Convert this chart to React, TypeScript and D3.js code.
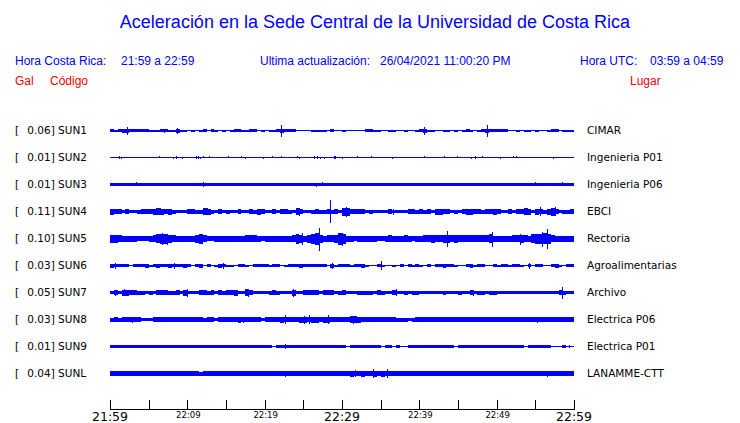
import React from 'react';
import * as d3 from 'd3';

// ---------- data ----------
const stations = ['SUN1', 'SUN2', 'SUN3', 'SUN4', 'SUN5', 'SUN6', 'SUN7', 'SUN8', 'SUN9', 'SUNL'];
const places = ['CIMAR', 'Ingenieria P01', 'Ingenieria P06', 'EBCI', 'Rectoria', 'Agroalimentarias', 'Archivo', 'Electrica P06', 'Electrica P01', 'LANAMME-CTT'];
const peakGal = ['0.06', '0.01', '0.01', '0.11', '0.10', '0.03', '0.05', '0.03', '0.01', '0.04'];

const tickLabels = ['21:59', '22:09', '22:19', '22:29', '22:39', '22:49', '22:59'];
const majorLabels = ['21:59', '22:29', '22:59'];

// envelope half-amplitude per half-minute bin (px units)
const sun1Env = [
  1.5, 1, 1.5, 2, 2, 1.5, 1.5, 1.5, 1.5, 1.5, 1, 1, 1, 1.5, 1.5, 1, 1, 2, 1, 1,
  0.5, 1, 0, 1, 1.5, 0.5, 1.5, 1, 0.5, 1, 0, 1, 1.5, 1.5, 1, 1, 1.5, 1.5, 0.5, 1,
  0.5, 1, 1, 1.5, 2, 1.5, 1.5, 1.5, 0, 0, 0, 0.5, 1, 1, 1, 1, 0.5, 1.5, 0, 0.5,
  1, 0.5, 0.5, 0, 0.5, 0.5, 1.5, 1.5, 1, 1, 0, 0, 1, 1, 0.5, 0, 1, 0, 0, 1,
  1.5, 2, 1, 1, 0, 0.5, 1, 1, 0.5, 1, 0, 1, 1.5, 1, 0.5, 1, 1.5, 2, 1.5, 1.5,
  1.5, 1.5, 1.5, 0.5, 0, 1, 0.5, 1, 1, 0.5, 1, 0.5, 0, 1, 1.5, 1.5, 0, 1, 1, 1,
];
const sun2Env: number[] = [];
const sun3Env = [
  1.7, 1.7, 1.7, 1.7, 1.7, 1.7, 1.7, 1.7, 1.7, 1.7, 1.7, 1.7, 1.7, 1.7, 1.7, 1.7, 1.7, 1.7, 1.7, 1.7,
  1.7, 1.7, 1.7, 1.7, 1.7, 1.7, 1.7, 1.7, 1.7, 1.7, 1.7, 1.7, 1.7, 1.7, 1.7, 1.7, 1.7, 1.7, 1.7, 1.7,
  1.7, 1.7, 1.7, 1.7, 1.7, 1.7, 1.7, 1.7, 1.7, 1.7, 1.7, 1.7, 1.7, 1.7, 1.7, 1.7, 1.7, 1.7, 1.7, 1.7,
  1.7, 1.7, 1.7, 1.7, 1.7, 1.7, 1.7, 1.7, 1.7, 1.7, 1.7, 1.7, 1.7, 1.7, 1.7, 1.7, 1.7, 1.7, 1.7, 1.7,
  1.7, 1.7, 1.7, 1.7, 1.7, 1.7, 1.7, 1.7, 1.7, 1.7, 1.7, 1.7, 1.7, 1.7, 1.7, 1.7, 1.7, 1.7, 1.7, 1.7,
  1.7, 1.7, 1.7, 1.7, 1.7, 1.7, 1.7, 1.7, 1.7, 1.7, 1.1, 1.1, 1.1, 1.1, 1.1, 1.1, 1.1, 1.1, 1.1, 1.1,
];
const sun4Env = [
  3, 2.2, 2.2, 1.7, 2.2, 1.7, 1.7, 2, 2.5, 2.2, 2.5, 3, 3.5, 3, 2.5, 3, 2, 1.7, 1.7, 1.7,
  2.2, 2.2, 2, 2, 3.5, 3, 2, 1.7, 2.5, 1.7, 2, 1.7, 1.7, 2.2, 1.7, 1.7, 2.2, 2, 3, 2.5,
  1.7, 1.7, 2.2, 1.7, 2.2, 2.2, 2, 1.7, 3.5, 2.5, 1.7, 1.7, 2, 2.2, 2, 2, 2.5, 2, 2.2, 1.7,
  4, 4, 2.5, 2.2, 2.2, 2.2, 1.7, 2, 1.7, 1.7, 1.7, 1.7, 2.5, 1.7, 1.7, 1.7, 1.7, 2.5, 2.5, 2,
  2.5, 2, 2.2, 1.7, 3, 3, 2.2, 2.5, 1.7, 2, 1.7, 2.5, 3, 3, 2.5, 2.5, 2, 2.5, 2.2, 3,
  2.5, 1.7, 1.7, 2.2, 1.7, 2.2, 2.5, 3.5, 3, 1.7, 3, 2.5, 2, 3, 4, 2.5, 1.7, 2, 2, 2.2,
];
const sun5Env = [
  4, 4, 3.5, 3, 3, 3, 3, 2.7, 2.7, 2.7, 3, 3.5, 4.5, 5, 5, 4, 3.5, 3, 3, 3,
  3, 3, 4, 5, 3.5, 2.7, 2.7, 3, 3, 3, 3, 3, 3, 3, 3, 3.5, 3.5, 3.5, 3, 2.7,
  3, 3, 3, 3, 3, 3, 3, 3.5, 5, 4, 3, 4, 5, 6, 4, 3, 3.5, 3.5, 4, 6,
  5, 3, 3, 2.7, 3, 3, 3, 3, 3, 2.5, 2.5, 3, 3.5, 3, 3, 3, 3.5, 3, 2.7, 3,
  3, 3.5, 3.5, 4, 3.5, 3.5, 4, 4, 3.5, 4, 3.5, 3.5, 3.5, 3.5, 3.5, 3.5, 3.5, 3.5, 4.5, 3,
  3, 3, 3, 3, 3.5, 3.5, 4, 3.5, 3, 4.5, 5, 5, 5.5, 5, 3.5, 3, 3, 3, 3, 3,
];
const sun6Env = [
  2, 1.5, 1.5, 1.5, 1.5, 0.5, 1.5, 1.5, 1.5, 2, 1, 1.5, 2, 1.5, 1.5, 2, 1.5, 1.5, 1.5, 2,
  1.5, 0.5, 1.5, 2, 0.5, 1.5, 0, 1, 2, 1.5, 1, 1, 0.5, 1.5, 1.5, 1, 0, 1.5, 1.5, 1.5,
  1.5, 1, 1.5, 1.5, 0, 1, 1.5, 1.5, 1.5, 2, 1.5, 1.5, 1.5, 1.5, 1.5, 1.5, 0.5, 2, 1, 1.5,
  1.5, 1.5, 1, 1.5, 1.5, 2, 1, 0, 0, 1.5, 1, 0, 0, 1, 0, 1.5, 0.5, 1.5, 1, 1.5,
  1, 0.5, 1.5, 0.5, 1.5, 1.5, 2, 1.5, 1.5, 1, 0.5, 0, 1.5, 2, 1, 1.5, 1.5, 0.5, 0.5, 1.5,
  1, 1.5, 1.5, 1, 1.5, 1.5, 1, 0.5, 1.5, 0.5, 1.5, 1.5, 0.5, 0.5, 1.5, 2, 1, 0.5, 1.5, 1.5,
];
const sun7Env = [
  1.7, 2.2, 1.3, 3, 3, 2.5, 2.5, 2, 2, 1.5, 2, 1.5, 2.2, 2.5, 2.5, 2, 2, 2.5, 1.5, 3,
  1.5, 1.5, 1.5, 2.5, 2.5, 2, 2.2, 1.7, 2.2, 2, 2.2, 2.5, 3, 1.5, 1.5, 3.5, 2.5, 1.7, 1.7, 1.7,
  1.7, 2, 2.7, 2, 1.3, 1.3, 1.5, 3, 1.7, 1.7, 2.5, 2.5, 2.2, 2.5, 1.7, 2.2, 2.2, 2.5, 1.7, 2,
  2.2, 1.3, 1.3, 1.7, 2, 2, 2, 2, 1.5, 2.5, 2, 1.5, 1.7, 2.5, 1.5, 1.3, 2, 1.7, 2, 2,
  1.3, 1.3, 1.5, 1.3, 1.5, 1.3, 2, 1.7, 1.7, 1.7, 2, 1.3, 1.7, 2.5, 1.5, 2, 2, 1.7, 2, 2,
  1.3, 1.7, 1.7, 1.7, 1.5, 1.7, 1.7, 1.3, 1.5, 1.7, 1.7, 1.7, 1.3, 1.7, 1.7, 1.7, 2.5, 2, 1.7, 1.7,
];
const sun8Env = [
  2, 2.2, 2, 2.5, 2.5, 2.5, 2.2, 2.5, 1.8, 1.8, 1.7, 2.5, 2.7, 2.5, 2.7, 2.5, 2.7, 2.5, 2.5, 2.7,
  2.5, 2.7, 2.5, 2.2, 2, 2.5, 2.2, 1.7, 2.5, 2.7, 2.5, 2.5, 2.7, 3, 2.7, 2.5, 2.5, 2.2, 2.5, 1.8,
  2.7, 2.7, 2.5, 2.7, 3, 2.5, 2.5, 2.5, 2.7, 3, 3, 2.7, 3, 3, 2.7, 3, 3, 2.7, 2.5, 2.5,
  2.5, 2.5, 3.5, 3.5, 3, 2.7, 2.5, 2.7, 2.5, 2.5, 2.7, 2.5, 2.5, 2.2, 2, 2, 2, 1.8, 2, 2.5,
  2.5, 2.5, 2.7, 2.5, 2.5, 2.7, 2.5, 2.7, 2.5, 2.7, 2.5, 2.7, 2.7, 2.5, 2.2, 2.7, 2.5, 2.7, 2.5, 2.7,
  2.7, 2.5, 2.7, 2.5, 2.5, 2.7, 2.5, 2.7, 2.5, 2.7, 2.7, 2.5, 2.7, 2.5, 2.7, 2.7, 2.5, 2.7, 2.7, 2.7,
];
const sun9Env = [
  1.5, 1.5, 1.2, 1.5, 1.5, 1.5, 1.2, 1.5, 1.5, 1.5, 1.2, 1.5, 1.5, 1.5, 1.5, 1.5, 1.5, 1.5, 1.2, 1.5,
  1.5, 1.5, 1.5, 1.5, 1.5, 1.5, 1.2, 1.5, 1.5, 1.2, 1.2, 1.5, 1.5, 1.5, 1.2, 1.5, 1.5, 1.5, 1.5, 1.2,
  1.5, 1.2, 0.5, 1.5, 1.5, 1.5, 1.5, 1.5, 1.5, 1.5, 1.5, 1.5, 1.5, 1.5, 1.5, 1.5, 1.5, 1.5, 1.5, 1.5,
  1.2, 0.5, 1.5, 1.5, 1.5, 1.2, 1.5, 1.5, 1.5, 1.5, 0.5, 1.2, 1.2, 0.5, 1.2, 0.5, 0.5, 1.5, 1.5, 1.5,
  1.5, 1.2, 1.5, 1.5, 1.5, 1.5, 1.2, 1.5, 1.5, 0.5, 1.5, 1.5, 1.5, 1.5, 1.5, 1.5, 1.5, 1.5, 1.5, 1.5,
  1.2, 1.5, 1.5, 1.5, 1.2, 1.5, 1.5, 0.5, 1.2, 1.5, 1.5, 1.5, 1.5, 1.5, 0.5, 0.5, 0.5, 1.2, 0.5, 0.5,
];
const sunLEnv = [
  2.5, 2.5, 2.2, 2.5, 2.5, 2.5, 2.2, 2.5, 2.5, 2.2, 2.5, 2.5, 2.2, 2.5, 2.5, 2.5, 2.2, 2.5, 2.5, 2.5,
  2.2, 2.5, 2.5, 2, 2.2, 2.5, 2.5, 2.2, 2.5, 2.5, 2.5, 2.2, 2.5, 2.5, 2.5, 2.5, 2.5, 2.5, 2.2, 2.5,
  2.5, 2.5, 2.5, 2.2, 2.5, 2.5, 2.2, 2.5, 2.5, 2.5, 2.5, 2.2, 2.5, 2.5, 2.5, 2.5, 2.2, 2.5, 2.5, 2.5,
  2.5, 2.5, 3, 2.7, 2.5, 3, 2.5, 2.7, 3, 2.7, 3, 2.7, 2.5, 2.5, 2.2, 2.5, 2.5, 2.5, 2.2, 2.5,
  2.5, 2.5, 2.5, 2.5, 2.5, 2.2, 2.5, 2.5, 2.5, 2.5, 2.2, 2.5, 2.5, 2.5, 2.5, 2.5, 2.5, 2.7, 2.5, 2.5,
  2.5, 2.5, 2.5, 2.5, 2.5, 2.5, 2.5, 2.2, 2.5, 2.5, 2.5, 2.5, 2.7, 2.7, 2.5, 2.5, 2.5, 2.5, 2.5, 2.5,
];

// isolated peaks: [minute, up, down]
const sun1Spikes = [[2.16, 4, 4], [7.03, 2, 2], [8.71, 2.3, 3.3], [22.11, 5.7, 6.7], [40.65, 3.3, 4.3], [48.79, 6, 6.7]];
const sun2Spikes = [
  [1.16, 1.7, 1.7], [1.42, 0, 1.7], [6.38, 1.7, 0], [8.1, 0, 1.7], [8.53, 1.7, 1.7], [9.27, 0, 1.7], [11.08, 1.7, 1.7],
  [11.42, 1.7, 1.7], [11.64, 0, 1.7], [12.07, 1.7, 0], [12.84, 1.7, 0], [15.3, 1.7, 0], [16.94, 1.7, 0], [17.46, 0, 1.7],
  [19.78, 0, 1.7], [20.9, 1.7, 0], [22.07, 1.7, 0], [24.22, 1.7, 0], [24.48, 0, 1.7], [26.38, 1.7, 1.7], [26.72, 1.7, 1.7],
  [27.16, 0, 1.7], [27.67, 0, 1.7], [28.97, 1.7, 1.7], [29.1, 1.7, 1.7], [29.96, 0, 1.7], [31.98, 1.7, 0], [33.71, 1.7, 0],
  [36.42, 0, 1.7], [40.65, 1.7, 0], [43.23, 1.7, 0], [44.83, 1.7, 0], [46.68, 0, 1.7], [47.2, 1.7, 1.7], [48.06, 1.7, 0],
  [50.43, 0, 1.7], [52.16, 1.7, 0], [52.46, 1.7, 0], [57.24, 0, 1.7],
];
const sun3Spikes = [[3.36, 2.7, 1.7], [12.07, 2.7, 2.3], [26.64, 1.7, 2.7], [27.41, 2.7, 1.7], [54.96, 2.2, 1.7], [58.4, 2.2, 1.7]];
const sun4Spikes = [[28.49, 12, 11], [24.48, 4, 4.5], [55.6, 4.5, 4], [6.47, 4, 3.5], [36.64, 3, 3.5], [57.54, 5, 4.5], [12.5, 4, 3.5], [14.22, 3, 2.5], [30.5, 5, 5]];
const sun5Spikes = [[27.07, 11, 12], [43.62, 7.7, 8.9], [56.47, 10, 10], [55.8, 7, 8], [49.35, 7, 8], [24.78, 6, 6], [29.96, 6, 7], [11.85, 5, 5.5], [6.68, 6, 6], [7.33, 5, 6], [53, 5, 6]];
const sun6Spikes = [[0.65, 3, 3], [35.04, 4.3, 4.3], [8.32, 3, 3], [14.66, 2.5, 3], [54.2, 3, 3], [28.66, 3, 3]];
const sun7Spikes = [[58.41, 5.3, 6.3], [9.91, 4, 4], [1.85, 3.5, 3.5], [17.8, 4, 4], [23.7, 3.5, 4], [36.94, 3.5, 3.5], [46.98, 3, 3], [0.65, 3, 3]];
const sun8Spikes = [[22.63, 4.3, 4.7], [25.13, 3.5, 4], [25.73, 4.3, 4.5], [28.15, 4.3, 4.7], [31.47, 4, 4], [2.89, 3, 3.5], [55.26, 3, 3.5], [17.24, 3, 3]];
const sun9Spikes = [[22.6, 2.3, 2.3], [59.3, 1.7, 1.7]];
const sunLSpikes = [[31.68, 3.5, 3.5], [34.05, 4.5, 4.5], [35.78, 4.5, 4.5], [56.47, 3, 3], [49.57, 2.8, 2.8], [22.63, 3, 3]];

const envelopes = [sun1Env, sun2Env, sun3Env, sun4Env, sun5Env, sun6Env, sun7Env, sun8Env, sun9Env, sunLEnv];
const spikeSets = [sun1Spikes, sun2Spikes, sun3Spikes, sun4Spikes, sun5Spikes, sun6Spikes, sun7Spikes, sun8Spikes, sun9Spikes, sunLSpikes];

// ---------- layout ----------
const W = 740;
const H = 423;
const BIN = 0.5; // minutes per envelope bin
const BLUE = '#0000ff';
const RED = '#ff0000';
const HEAD_FONT = '"Liberation Sans", Arial, sans-serif';
const LABEL_FONT = '"DejaVu Sans", sans-serif';

const x = d3.scaleLinear().domain([0, 60]).range([110, 574]);
const row = d3.scaleLinear().domain([0, 9]).range([130, 373]);
const amp = d3.scaleLinear().domain([0, 1]).range([0, 1]);

function Trace({ i }: { i: number }) {
  const cy = row(i) + 0.5;
  const env = envelopes[i];
  const data = env.length ? [...env, env[env.length - 1]] : [];
  const area = d3
    .area<number>()
    .x((_, k) => x(k * BIN))
    .y0((d) => cy - amp(d))
    .y1((d) => cy + amp(d))
    .curve(d3.curveStepAfter);
  return (
    <g shapeRendering="crispEdges">
      <rect x={x(0)} y={cy - 0.5} width={x(60) - x(0)} height={1} fill={BLUE} />
      {data.length > 0 && <path d={area(data) || ''} fill={BLUE} />}
      {spikeSets[i].map((s, k) => (
        <rect
          key={k}
          x={Math.round(x(s[0]))}
          y={cy - amp(Math.max(s[1], 0.5))}
          width={1}
          height={amp(Math.max(s[1], 0.5)) + amp(Math.max(s[2], 0.5))}
          fill={BLUE}
        />
      ))}
    </g>
  );
}

export default function App() {
  const tickMinutes = d3.range(0, 61, 5);
  return (
    <svg
      width={W}
      height={H}
      viewBox={`0 0 ${W} ${H}`}
      style={{ position: 'absolute', left: 0, top: 0, background: '#fff', display: 'block' }}
    >
      <rect x={0} y={0} width={W} height={H} fill="#fff" />
      <text x={375} y={28} textAnchor="middle" fontFamily={HEAD_FONT} fontSize={18} fill={BLUE}>
        Aceleración en la Sede Central de la Universidad de Costa Rica
      </text>

      <g fontFamily={HEAD_FONT} fontSize={12} fill={BLUE}>
        <text x={15} y={65}>Hora Costa Rica:</text>
        <text x={121} y={65}>21:59 a 22:59</text>
        <text x={260} y={65}>Ultima actualización:</text>
        <text x={380} y={65}>26/04/2021 11:00:20 PM</text>
        <text x={580} y={65}>Hora UTC:</text>
        <text x={650} y={65}>03:59 a 04:59</text>
      </g>
      <g fontFamily={HEAD_FONT} fontSize={12} fill={RED}>
        <text x={15} y={85}>Gal</text>
        <text x={50} y={85}>Código</text>
        <text x={630} y={85}>Lugar</text>
      </g>

      <g fontFamily={LABEL_FONT} fontSize={10.5} fill="#000">
        {stations.map((s, i) => (
          <g key={s}>
            <text x={15} y={row(i) + 4}>[</text>
            <text x={27.3} y={row(i) + 4}>{`${peakGal[i]}] ${s}`}</text>
            <text x={587} y={row(i) + 4}>{places[i]}</text>
          </g>
        ))}
      </g>

      {stations.map((s, i) => (
        <Trace key={s} i={i} />
      ))}

      <g shapeRendering="crispEdges" stroke="#000" strokeWidth={1}>
        <line x1={x(0)} x2={x(60) + 1} y1={409.5} y2={409.5} />
        {tickMinutes.map((m) => (
          <line key={m} x1={Math.round(x(m)) + 0.5} x2={Math.round(x(m)) + 0.5} y1={400} y2={410} />
        ))}
      </g>
      <g fontFamily={LABEL_FONT} fill="#000" textAnchor="middle">
        {tickLabels.map((t, k) =>
          majorLabels.includes(t) ? (
            <text key={t} x={x(k * 10)} y={421} fontSize={12.5}>{t}</text>
          ) : (
            <text key={t} x={x(k * 10) + 1} y={418} fontSize={8.5}>{t}</text>
          ),
        )}
      </g>
    </svg>
  );
}
